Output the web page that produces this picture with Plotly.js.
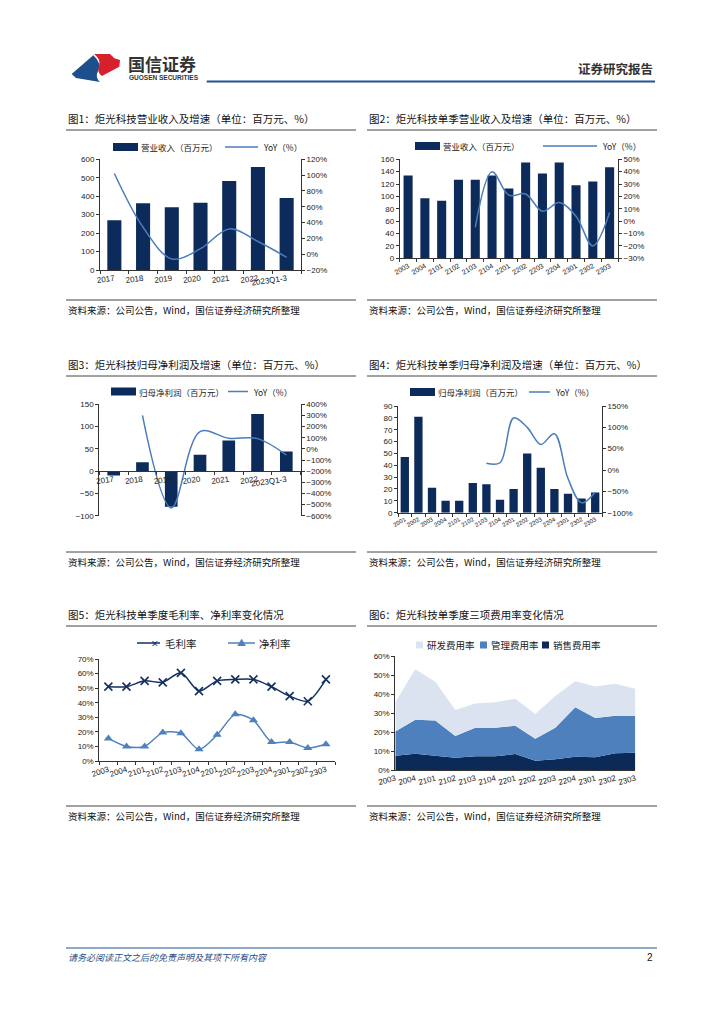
<!DOCTYPE html>
<html><head><meta charset="utf-8">
<script src="https://cdn.plot.ly/plotly-3.0.1.min.js"></script>
<style>html,body{margin:0;padding:0;background:#fff;}#c{width:724px;height:1024px;}</style>
</head><body><div id="c"></div>
<script>
// ---------- DATA ----------
const years = ['2017','2018','2019','2020','2021','2022','2023Q1-3'];
const revenueAnnual = [270, 362, 340, 365, 482, 558, 390];
const revenueAnnualYoY = [102, 34, -6, 7, 32, 16, -4];

const quartersA = ['2003','2004','2101','2102','2103','2104','2201','2202','2203','2204','2301','2302','2303'];
const revenueQ = [134, 97, 93, 127, 127, 134, 113, 155, 137, 155, 118, 124, 147];
const revenueQYoY = [null, null, null, null, -5, 40, 21, 22, 8, 15, 4, -20, 7];

const profitAnnual = [-10, 20, -80, 37, 69, 128, 44];
const profitAnnualYoY = [null, 300, -530, 155, 95, 92, -55];

const quartersB = ['2001','2002','2003','2004','2101','2102','2103','2104','2201','2202','2203','2204','2301','2302','2303'];
const profitQ = [47, 81, 21, 10, 10, 25, 24, 11, 20, 50, 38, 20, 16, 12, 17];
const profitQYoY = [null, null, null, null, null, null, 16, 17, 122, 100, 60, 85, -20, -77, -52];

const grossMargin = [51, 51, 55, 54, 60.5, 48, 55, 56, 56, 51, 44.5, 41, 56];
const netMargin = [15.5, 10, 10, 19.5, 19, 8, 18, 32, 28, 13, 13, 9, 11.5];

const salesRate = [7.5, 8.6, 7.5, 6.5, 7.2, 7.2, 8.4, 4.9, 5.6, 7.0, 6.7, 8.8, 9.1];
const mgmtRate = [12.7, 17.9, 18.5, 11.4, 15.1, 15.1, 14.9, 11.6, 16.7, 26.0, 20.7, 19.8, 19.5];
const rdRate = [15.5, 26.5, 20.5, 13.7, 12.7, 13.3, 14.2, 13.0, 16.7, 13.7, 16.5, 16.8, 14.2];

// ---------- STYLE ----------
const W = 724, H = 1024;
const px = x => x / W;
const py = y => 1 - y / H;
const BAR = '#0c2a5a', LINE = '#4a7dbb', NAVY = '#13305f', LBLUE = '#4f81bd';
const CJK = '"Noto Sans CJK SC", "Noto Sans", sans-serif';
const NUM = '"Liberation Sans", Arial, sans-serif';
const tickFont = {family: NUM, size: 8, color: '#222'};

function yAx(top, bottom, range, dtick, extra) {
  return Object.assign({domain: [py(bottom), py(top)], range: range, dtick: dtick,
    showgrid: false, zeroline: false, showline: true, linecolor: '#333', linewidth: 1,
    ticks: 'outside', ticklen: 3, tickcolor: '#333', tickfont: tickFont, fixedrange: true}, extra || {});
}
function xAx(left, right, n, extra) {
  return Object.assign({domain: [px(left), px(right)], type: 'category', range: [-0.5, n - 0.5],
    showgrid: false, zeroline: false, showline: true, linecolor: '#333', linewidth: 1,
    ticks: 'outside', ticklen: 3, tickcolor: '#333', tickson: 'boundaries',
    tickfont: tickFont, fixedrange: true}, extra || {});
}

const traces = [
  // chart 1
  {type: 'bar', x: years, y: revenueAnnual, xaxis: 'x', yaxis: 'y', marker: {color: BAR}, width: 0.49},
  {type: 'scatter', mode: 'lines', x: years, y: revenueAnnualYoY, xaxis: 'x', yaxis: 'y2',
   line: {color: LINE, width: 1.5, shape: 'spline'}},
  // chart 2
  {type: 'bar', x: quartersA, y: revenueQ, xaxis: 'x2', yaxis: 'y3', marker: {color: BAR}, width: 0.54},
  {type: 'scatter', mode: 'lines', x: quartersA, y: revenueQYoY, xaxis: 'x2', yaxis: 'y4',
   line: {color: LINE, width: 1.5, shape: 'spline'}},
  // chart 3
  {type: 'bar', x: years, y: profitAnnual, xaxis: 'x3', yaxis: 'y5', marker: {color: BAR}, width: 0.44},
  {type: 'scatter', mode: 'lines', x: years, y: profitAnnualYoY, xaxis: 'x3', yaxis: 'y6',
   line: {color: LINE, width: 1.5, shape: 'spline'}},
  // chart 4
  {type: 'bar', x: quartersB, y: profitQ, xaxis: 'x4', yaxis: 'y7', marker: {color: BAR}, width: 0.61},
  {type: 'scatter', mode: 'lines', x: quartersB, y: profitQYoY, xaxis: 'x4', yaxis: 'y8',
   line: {color: LINE, width: 1.5, shape: 'spline'}},
  // chart 5
  {type: 'scatter', mode: 'lines+markers', x: quartersA, y: grossMargin, xaxis: 'x5', yaxis: 'y9',
   line: {color: NAVY, width: 1.5, shape: 'spline', smoothing: 0.8},
   marker: {symbol: 'x-thin', size: 8, line: {color: NAVY, width: 1.6}, color: NAVY}},
  {type: 'scatter', mode: 'lines+markers', x: quartersA, y: netMargin, xaxis: 'x5', yaxis: 'y9',
   line: {color: LBLUE, width: 1.5, shape: 'spline', smoothing: 0.8},
   marker: {symbol: 'triangle-up', size: 8, color: LBLUE}},
  // chart 6
  {type: 'scatter', mode: 'lines', x: quartersA, y: salesRate, xaxis: 'x6', yaxis: 'y10', stackgroup: 'fee',
   line: {width: 0, color: '#0c2a58'}, fillcolor: '#0c2a58'},
  {type: 'scatter', mode: 'lines', x: quartersA, y: mgmtRate, xaxis: 'x6', yaxis: 'y10', stackgroup: 'fee',
   line: {width: 0, color: '#4e80bd'}, fillcolor: '#4e80bd'},
  {type: 'scatter', mode: 'lines', x: quartersA, y: rdRate, xaxis: 'x6', yaxis: 'y10', stackgroup: 'fee',
   line: {width: 0, color: '#dbe2f0'}, fillcolor: '#dbe2f0'}
];

const layout = {
  width: W, height: H, margin: {l: 0, r: 0, t: 0, b: 0}, showlegend: false,
  paper_bgcolor: '#fff', plot_bgcolor: 'rgba(0,0,0,0)', font: {family: CJK, color: '#222'},
  // chart 1
  xaxis: xAx(100, 301, years.length, {anchor: 'y', tickangle: -8}),
  yaxis: yAx(159.3, 270, [0, 600], 100, {anchor: 'x'}),
  yaxis2: yAx(159.3, 270, [-20, 120], 20, {anchor: 'x', overlaying: 'y', side: 'right', ticksuffix: '%'}),
  // chart 2
  xaxis2: xAx(399.7, 618, quartersA.length, {anchor: 'y3', tickangle: -30, tickfont: {family: NUM, size: 7, color: '#222'}}),
  yaxis3: yAx(159.3, 258.3, [0, 160], 20, {anchor: 'x2'}),
  yaxis4: yAx(159.3, 258.3, [-30, 50], 10, {anchor: 'x2', overlaying: 'y3', side: 'right', ticksuffix: '%'}),
  // chart 3
  xaxis3: xAx(99.3, 300.7, years.length, {anchor: 'free', position: py(471), tickangle: -8}),
  yaxis5: yAx(404.3, 515.7, [-100, 150], 50, {anchor: 'x3', position: px(99.3)}),
  yaxis6: yAx(404.3, 515.7, [-600, 400], 100, {anchor: 'x3', overlaying: 'y5', side: 'right', ticksuffix: '%'}),
  // chart 4
  xaxis4: xAx(398, 602, quartersB.length, {anchor: 'y7', tickangle: -30, tickfont: {family: NUM, size: 6, color: '#222'}}),
  yaxis7: yAx(406, 512.7, [0, 90], 10, {anchor: 'x4'}),
  yaxis8: yAx(406, 512.7, [-100, 150], 50, {anchor: 'x4', overlaying: 'y7', side: 'right', ticksuffix: '%'}),
  // chart 5
  xaxis5: xAx(99.3, 335, quartersA.length, {anchor: 'y9', tickangle: -18}),
  yaxis9: yAx(659, 761, [0, 70], 10, {anchor: 'x5', ticksuffix: '%'}),
  // chart 6
  xaxis6: xAx(395.3, 635.3, quartersA.length, {anchor: 'y10', tickangle: -15, range: [0, 12], tickson: 'labels', ticks: ''}),
  yaxis10: yAx(656, 770, [0, 60], 10, {anchor: 'x6', ticksuffix: '%'}),
  shapes: [], annotations: []
};

const S = layout.shapes, A = layout.annotations;
function hline(x0, x1, y, color, w) {
  S.push({type: 'line', xref: 'paper', yref: 'paper', x0: px(x0), x1: px(x1), y0: py(y), y1: py(y),
    line: {color: color, width: w}});
}
function rect(x0, y0, x1, y1, color) {
  S.push({type: 'rect', xref: 'paper', yref: 'paper', x0: px(x0), x1: px(x1), y0: py(y0), y1: py(y1),
    line: {width: 0}, fillcolor: color});
}
function text(x, y, t, size, opts) {
  opts = opts || {};
  A.push({xref: 'paper', yref: 'paper', x: px(x), y: py(y), text: t, showarrow: false,
    xanchor: opts.anchor || 'left', yanchor: 'middle',
    font: {family: opts.family || CJK, size: size, color: opts.color || '#222'}});
}
function pathPx(cmds) {
  // cmds: array of [letter, x, y, (x2, y2)]
  return cmds.map(c => {
    if (c[0] === 'Z') return 'Z';
    let s = c[0];
    for (let i = 1; i < c.length; i += 2) s += ' ' + px(c[i]).toFixed(5) + ',' + py(c[i + 1]).toFixed(5);
    return s;
  }).join(' ');
}

// ---------- HEADER ----------
const z = (x, y) => [60 + x / 3, 40 + y / 3];
function zp(letter, ...pts) { let out = [letter]; for (let i = 0; i < pts.length; i += 2) { const p = z(pts[i], pts[i+1]); out.push(p[0], p[1]); } return out; }
S.push({type: 'path', xref: 'paper', yref: 'paper', line: {width: 0}, fillcolor: '#1d4f8c',
  path: pathPx([zp('M', 35, 102), zp('L', 100, 46), zp('Q', 128, 72, 114, 94), zp('Q', 104, 112, 120, 126), zp('L', 48, 114), ['Z']])});
S.push({type: 'path', xref: 'paper', yref: 'paper', line: {width: 0}, fillcolor: '#d7202c',
  path: pathPx([zp('M', 102, 42), zp('L', 150, 42), zp('L', 163, 55), zp('L', 180, 60), zp('L', 178, 80), zp('L', 126, 108), zp('Q', 108, 96, 118, 76), zp('Q', 122, 56, 102, 42), ['Z']])});
text(126, 63.5, '<b>国信证券</b>', 17, {color: '#333'});
text(127, 77, '<b>GUOSEN SECURITIES</b>', 6.5, {family: NUM, color: '#333'});
hline(206.7, 655, 81.5, '#1f5591', 2);
text(655, 68.5, '<b>证券研究报告</b>', 12.5, {anchor: 'right', color: '#333'});

// ---------- TITLES / SOURCES ----------
const titles = [
  [66, 118, '图1：炬光科技营业收入及增速（单位：百万元、%）'],
  [367, 118, '图2：炬光科技单季营业收入及增速（单位：百万元、%）'],
  [66, 364, '图3：炬光科技归母净利润及增速（单位：百万元、%）'],
  [367, 364, '图4：炬光科技单季归母净利润及增速（单位：百万元、%）'],
  [66, 614, '图5：炬光科技单季度毛利率、净利率变化情况'],
  [367, 614, '图6：炬光科技单季度三项费用率变化情况']
];
titles.forEach(t => { text(t[0], t[1], t[2], 10.5, {color: '#111'}); hline(t[0], t[0] + 290, t[1] + 12, '#444', 1); });
const srcTxt = '资料来源：公司公告，Wind，国信证券经济研究所整理';
[[66, 310], [367, 310], [66, 562], [367, 562], [66, 816], [367, 816]].forEach(s => {
  hline(s[0], s[0] + 290, s[1] - 10, '#444', 1);
  text(s[0], s[1], srcTxt, 9.5, {color: '#111'});
});

// ---------- LEGENDS ----------
function barLegend(x, y, t) { rect(x, y - 4, x + 25, y + 4, BAR); text(x + 26, y, t, 8.5, {color: '#222'}); }
function lineLegend(x0, x1, y, t) { hline(x0, x1, y, LINE, 1.5); text(x1 + 3, y, t, 8.5, {color: '#222'}); }
barLegend(113, 147, '营业收入（百万元）'); lineLegend(225, 258, 147, 'YoY（%）');
barLegend(415, 146, '营业收入（百万元）'); lineLegend(543, 597, 146, 'YoY（%）');
barLegend(111, 391.5, '归母净利润（百万元）'); lineLegend(228, 248, 391.5, 'YoY（%）');
barLegend(410, 392, '归母净利润（百万元）'); lineLegend(529, 550, 392, 'YoY（%）');

// chart 5 legend
hline(137, 160, 643, NAVY, 1.5);
A.push({xref: 'paper', yref: 'paper', x: px(148.5), y: py(643), text: '✕', showarrow: false, font: {size: 9, color: NAVY}});
text(163, 643, '毛利率', 10.5, {color: '#222'});
hline(228, 255, 643, LBLUE, 1.5);
A.push({xref: 'paper', yref: 'paper', x: px(241.5), y: py(642.5), text: '▲', showarrow: false, font: {size: 9, color: LBLUE}});
text(257, 643, '净利率', 10.5, {color: '#222'});

// chart 6 legend
rect(416, 641.5, 423, 648.5, '#dbe2f0'); text(425, 645, '研发费用率', 9.5, {color: '#222'});
rect(480, 641.5, 487, 648.5, '#4e80bd'); text(489, 645, '管理费用率', 9.5, {color: '#222'});
rect(542, 641.5, 549, 648.5, '#0c2a58'); text(551, 645, '销售费用率', 9.5, {color: '#222'});

// ---------- FOOTER ----------
hline(66, 657, 948, '#1f5591', 1);
A.push({xref: 'paper', yref: 'paper', x: px(66), y: py(957), text: '<i>请务必阅读正文之后的免责声明及其项下所有内容</i>', showarrow: false,
  xanchor: 'left', yanchor: 'middle', font: {family: CJK, size: 9, color: '#1f4e86'}});
text(655, 957, '2', 10, {anchor: 'right', family: NUM, color: '#111'});

Plotly.newPlot('c', traces, layout, {staticPlot: true, displayModeBar: false});
</script></body></html>
